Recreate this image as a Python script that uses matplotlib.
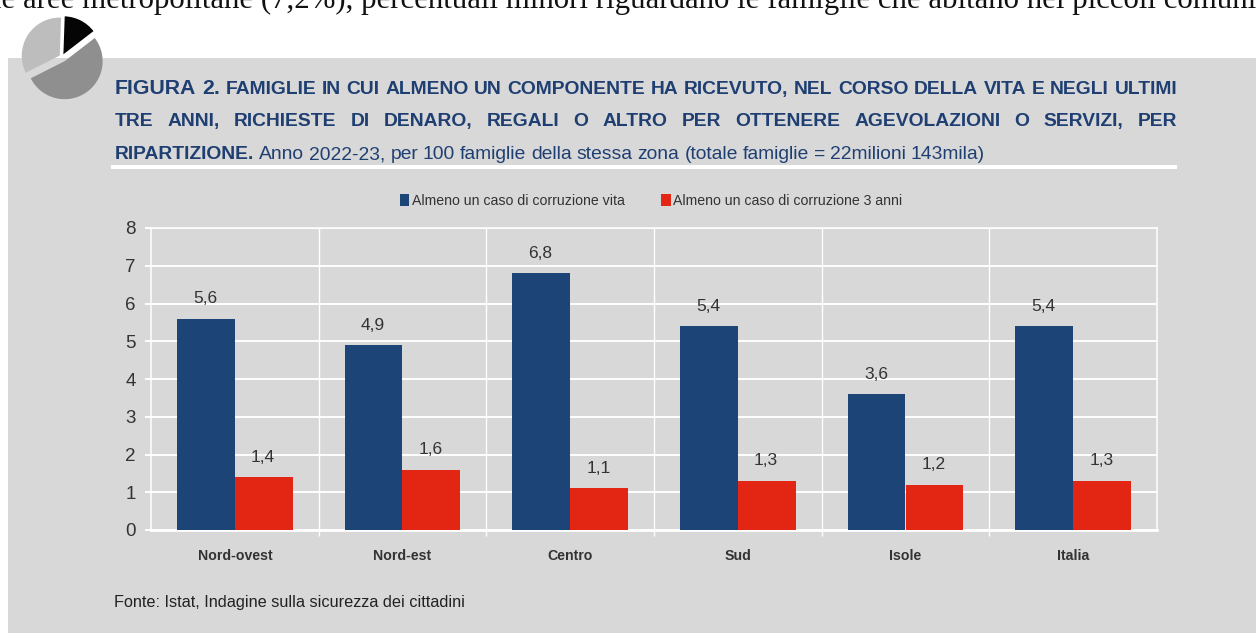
import matplotlib
matplotlib.use("Agg")
import matplotlib.pyplot as plt
import numpy as np
from matplotlib.patches import Rectangle
from matplotlib.ticker import FixedLocator

categories = ["Nord-ovest", "Nord-est", "Centro", "Sud", "Isole", "Italia"]
vita = [5.6, 4.9, 6.8, 5.4, 3.6, 5.4]
tre_anni = [1.4, 1.6, 1.1, 1.3, 1.2, 1.3]
value_labels_vita = ["5,6", "4,9", "6,8", "5,4", "3,6", "5,4"]
value_labels_tre = ["1,4", "1,6", "1,1", "1,3", "1,2", "1,3"]
series_names = ["Almeno un caso di corruzione vita", "Almeno un caso di corruzione 3 anni"]
yticks = list(range(9))
pie_shares = [14, 53, 33]

W, H = 1256, 633
SANS = ["Liberation Sans"]
NAVY = "#1c4477"
RED = "#e32614"
TITLE = "#1f3f72"
GREY = "#d8d8d8"
TXT = "#333333"

fig = plt.figure(figsize=(W / 100, H / 100), dpi=100, facecolor="white")


def fx(x):
    return x / W


def fy(y):
    return 1 - y / H


def pxt(x, y, s, size, **kw):
    kw.setdefault("family", SANS)
    kw.setdefault("va", "baseline")
    return fig.text(fx(x), fy(y), s, fontsize=size * 0.72, **kw)


def fit_line(parts, x0, x1, y, size, color):
    """parts = list of (text, weight, size factor); words stretched between x0 and x1."""
    r = fig.canvas.get_renderer()
    items = []
    for word, weight, fac in parts:
        t = pxt(x0, y, word, size * fac, color=color, weight=weight)
        items.append((t, t.get_window_extent(r).width))
    total = sum(w for _, w in items)
    gap = (x1 - x0 - total) / (len(items) - 1)
    x = x0
    for t, w in items:
        t.set_x(fx(x))
        x += w + gap


# panel
fig.add_artist(Rectangle((fx(8), 0), fx(W - 8), fy(58), transform=fig.transFigure,
                         facecolor=GREY, edgecolor="none", zorder=-5))
fig.add_artist(Rectangle((fx(111), fy(168.5)), fx(1066), 3 / H, transform=fig.transFigure,
                         facecolor="white", edgecolor="none"))

# running text cropped at the page top
pxt(-7, 8, "le aree metropolitane (7,2%), percentuali minori riguardano le famiglie che abitano nei piccoli comuni",
    30.9, family=["Liberation Serif"], color="#111111")

# pie icon
pax = fig.add_axes([fx(18), fy(111), fx(88), 100 / H])
pax.pie(pie_shares, colors=["#050505", "#8f8f8f", "#bdbdbd"], startangle=88, counterclock=False,
        explode=[0.08, 0.13, 0.07], radius=1.0)
pax.set_xlim(-1.158, 1.158)
pax.set_ylim(-1.42, 1.21)

# title
line1 = "FAMIGLIE IN CUI ALMENO UN COMPONENTE HA RICEVUTO, NEL CORSO DELLA VITA E NEGLI ULTIMI".split()
line2 = "TRE ANNI, RICHIESTE DI DENARO, REGALI O ALTRO PER OTTENERE AGEVOLAZIONI O SERVIZI, PER".split()
fit_line([("FIGURA", "bold", 1.1), ("2.", "bold", 1.1)] + [(w, "bold", 1) for w in line1],
         115, 1177, 94, 19.3, TITLE)
fit_line([(w, "bold", 1) for w in line2], 115, 1177, 126, 19.3, TITLE)
fit_line([("RIPARTIZIONE.", "bold", 1)] +
         [(w, "normal", 1) for w in "Anno 2022-23, per 100 famiglie della stessa zona (totale famiglie = 22milioni 143mila)".split()],
         115, 985, 159, 19.3, TITLE)

# chart
ax = fig.add_axes([fx(151), fy(530), fx(1157 - 151), (530 - 228) / H])
ax.set_facecolor("none")
x = np.arange(len(categories))
bw = 0.345
b1 = ax.bar(x - bw / 2, vita, bw, color=NAVY, label=series_names[0], zorder=3)
b2 = ax.bar(x + bw / 2, tre_anni, bw, color=RED, label=series_names[1], zorder=3)
ax.set_xlim(-0.5, len(categories) - 0.5)
ax.set_ylim(0, 8)
ax.set_yticks(yticks)
ax.set_xticks(x)
ax.set_xticklabels(categories, family=SANS, weight="bold", fontsize=10.2, color=TXT)
ax.set_yticklabels([str(v) for v in yticks], family=SANS, fontsize=13.5, color=TXT)
ax.xaxis.set_minor_locator(FixedLocator(x[:-1] + 0.5))
ax.grid(axis="y", color="white", lw=1.4, zorder=1)
ax.grid(axis="x", which="minor", color="white", lw=1.0, zorder=1)
ax.tick_params(axis="x", which="major", length=0, pad=14)
ax.tick_params(axis="x", which="minor", length=4, color="white", width=1.0)
ax.tick_params(axis="y", length=4, color="white", width=1.4, pad=7)
for s in ["top", "right", "left", "bottom"]:
    ax.spines[s].set_color("white")
    ax.spines[s].set_linewidth(1.1)
    ax.spines[s].set_zorder(2)
ax.spines["bottom"].set_linewidth(2)

for rect, lab in zip(b1, value_labels_vita):
    ax.annotate(lab, (rect.get_x() + rect.get_width() / 2, rect.get_height()), xytext=(-0.5, 9),
                textcoords="offset points", ha="center", va="bottom",
                family=SANS, fontsize=12.5, color=TXT)
for rect, lab in zip(b2, value_labels_tre):
    ax.annotate(lab, (rect.get_x() + rect.get_width() / 2, rect.get_height()), xytext=(-0.5, 9),
                textcoords="offset points", ha="center", va="bottom",
                family=SANS, fontsize=12.5, color=TXT)

fig.legend(handles=[b1, b2], loc="center", bbox_to_anchor=(fx(651), fy(201)), ncol=2, frameon=False,
           handlelength=0.7, handleheight=0.9, handletextpad=0.2, columnspacing=2.5,
           prop={"family": SANS, "size": 10.2}, labelcolor=TXT)

pxt(114, 607, "Fonte: Istat, Indagine sulla sicurezza dei cittadini", 16.3, family=SANS, color="#222222")

fig.savefig("out.png", dpi=100, facecolor="white")
